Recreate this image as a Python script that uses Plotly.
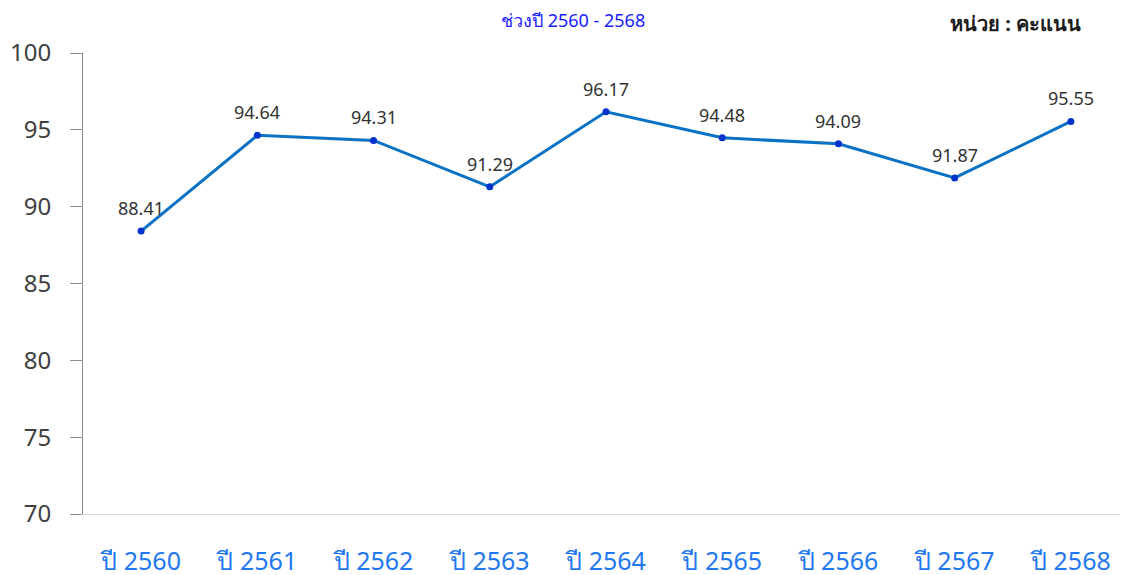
import plotly.graph_objects as go

years = ["ปี 2560", "ปี 2561", "ปี 2562", "ปี 2563", "ปี 2564", "ปี 2565", "ปี 2566", "ปี 2567", "ปี 2568"]
scores = [88.41, 94.64, 94.31, 91.29, 96.17, 94.48, 94.09, 91.87, 95.55]
score_labels = ["88.41", "94.64", "94.31", "91.29", "96.17", "94.48", "94.09", "91.87", "95.55"]
y_ticks = [70, 75, 80, 85, 90, 95, 100]

FONT = "Noto Sans, Tahoma, sans-serif"

# The page body has an 8px margin, so the figure is drawn 8px right/down.
W, H = 1128, 575
L, R, T, B = 75, 7, 45, 69

fig = go.Figure()
fig.add_trace(go.Scatter(
    x=years, y=scores, mode="lines+markers",
    line=dict(color="#0a72c4", width=3),
    marker=dict(color="#0033cc", size=7),
    cliponaxis=False, showlegend=False,
))

annotations = [
    dict(x=x, y=y, text=t, xref="x", yref="y", showarrow=False,
         yanchor="middle", yshift=23,
         font=dict(family=FONT, size=18, color="#333333"))
    for x, y, t in zip(years, scores, score_labels)
]
ph = H - T - B
pw = W - L - R
annotations += [
    dict(text="ช่วงปี 2560 - 2568", xref="paper", yref="paper",
         x=(565 - L) / pw, y=1 + (T - 12) / ph, xanchor="center", yanchor="middle", showarrow=False,
         font=dict(family=FONT, size=18, color="#1a1aff")),
    dict(text="<b>หน่วย : คะแนน</b>", xref="paper", yref="paper",
         x=(1075 - L) / pw, y=1 + (T - 15) / ph, xanchor="right", yanchor="middle", showarrow=False,
         font=dict(family=FONT, size=20, color="#1a1a1a")),
]

fig.update_layout(
    width=W, height=H,
    margin=dict(l=L, r=R, t=T, b=B, autoexpand=False),
    paper_bgcolor="white", plot_bgcolor="rgba(0,0,0,0)",
    font=dict(family=FONT),
    xaxis=dict(
        type="category", range=[-0.5, 8.5], showgrid=False, automargin=False,
        showline=True, linecolor="#d9d9d9", linewidth=1,
        ticks="", tickfont=dict(size=25, color="#1f78f0", family=FONT),
        ticklabelstandoff=25,
    ),
    yaxis=dict(
        range=[70, 100], tickvals=y_ticks, showgrid=False, zeroline=False, automargin=False,
        showline=True, linecolor="#8c8c8c", linewidth=1,
        ticks="outside", ticklen=12, tickcolor="#8c8c8c",
        tickfont=dict(size=24, color="#404040", family=FONT),
        ticklabelstandoff=14,
    ),
    annotations=annotations,
)

fig.write_html("out.html")
